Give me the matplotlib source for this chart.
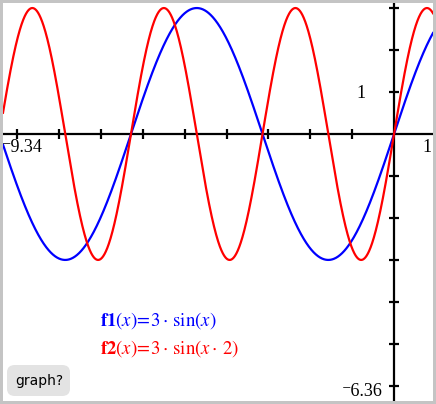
import numpy as np
import matplotlib
matplotlib.use("Agg")
import matplotlib.pyplot as plt
from matplotlib.patches import FancyBboxPatch

# Window / data
x_min, x_max = -9.34, 0.93
y_min, y_max = -6.36, 3.12
amplitudes = [3, 3]
frequencies = [1, 2]
colors = ["#0000ff", "#ff0000"]
x_ticks = [-9, -8, -7, -6, -5, -4, -3, -2, -1]
y_ticks = [-6, -5, -4, -3, -2, -1, 1, 2, 3]
labels = [r"$\mathbf{f1}(x)\!=\!3\cdot\,\sin(x)$", r"$\mathbf{f2}(x)\!=\!3\cdot\,\sin(x\cdot\,2)$"]

W, H = 436, 404
fig = plt.figure(figsize=(W / 100, H / 100), dpi=100)
fig.patch.set_facecolor("#c4c4c4")
plt.rcParams["mathtext.fontset"] = "stix"

ax = fig.add_axes([3 / W, 3 / H, 430 / W, 398 / H])
ax.set_facecolor("white")
ax.set_xlim(x_min, x_max)
ax.set_ylim(y_min, y_max)
for s in ax.spines.values():
    s.set_visible(False)
ax.set_xticks([])
ax.set_yticks([])

# axes
ax.axhline(0, color="black", lw=1.6, zorder=1)
ax.axvline(0, color="black", lw=1.6, zorder=1)
ax.plot(x_ticks, [0] * len(x_ticks), ls="none", marker="|", ms=7, mew=1.6, color="black", zorder=1)
ax.plot([0] * len(y_ticks), y_ticks, ls="none", marker="_", ms=7.5, mew=1.6, color="black", zorder=1)

xs = np.linspace(x_min, x_max, 2000)
for a, f, c in zip(amplitudes, frequencies, colors):
    ax.plot(xs, a * np.sin(f * xs), color=c, lw=1.6, zorder=3)

serif = ["Liberation Serif", "DejaVu Serif"]
fig.text(2 / W, 1 - 148 / H, "\u207b9.34", fontsize=13, family=serif, ha="left", va="center")
fig.text(432 / W, 1 - 148 / H, "1", fontsize=13, family=serif, ha="right", va="center")
fig.text(361 / W, 1 - 93 / H, "1", fontsize=13, family=serif, ha="center", va="center")
fig.text(383 / W, 1 - 391 / H, "\u207b6.36", fontsize=13, family=serif, ha="right", va="center")

fig.text(100 / W, 1 - 321 / H, labels[0], color=colors[0], fontsize=13.5, ha="left", va="center")
fig.text(100 / W, 1 - 349 / H, labels[1], color=colors[1], fontsize=13.5, ha="left", va="center")

# graph? button
btn = FancyBboxPatch((7 / W, 1 - 396 / H), 63 / W, 31 / H,
                     boxstyle="round,pad=0,rounding_size=0.018", transform=fig.transFigure,
                     facecolor="#e3e3e3", edgecolor="none")
fig.patches.append(btn)
fig.text(39 / W, 1 - 381 / H, "graph?", fontsize=10, family="DejaVu Sans", ha="center", va="center")

fig.savefig("out.png", dpi=100, facecolor=fig.get_facecolor())
